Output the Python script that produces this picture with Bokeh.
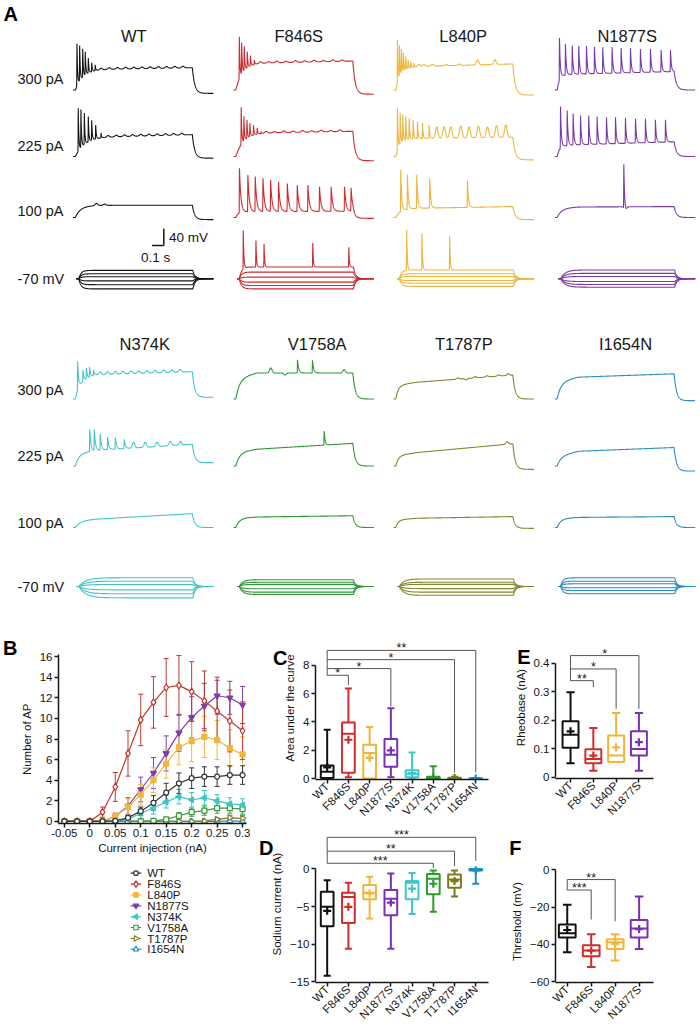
import numpy as np
from math import pi
from bokeh.plotting import figure
from bokeh.models import (Range1d, ColumnDataSource, Whisker, TeeHead, FixedTicker, LinearAxis)
from bokeh.layouts import column, row
from bokeh.embed import file_html
from bokeh.resources import INLINE
from bokeh.core.properties import value

FONT = "Liberation Sans"
INK = "#161616"
SX = 1.0
SY = 1.0

GENOS = ["WT", "F846S", "L840P", "N1877S", "N374K", "V1758A", "T1787P", "I1654N"]
TRACE_COLORS = {"WT": "#161616", "F846S": "#cc2a2f", "L840P": "#efb43a", "N1877S": "#7a3aa6",
                "N374K": "#42c4c6", "V1758A": "#2e9636", "T1787P": "#85852e", "I1654N": "#2a8cc0"}
BOX_COLORS = ["#111111", "#d42b2b", "#f2b636", "#7b2fb5", "#3cc8c8", "#2f9a2f", "#7b7b1c", "#1e8ccc"]
B_COLORS = {"WT": "#333333", "F846S": "#c0392b", "L840P": "#f0b63c", "N1877S": "#7d3db0",
            "N374K": "#3ec6c6", "V1758A": "#3a9a3a", "T1787P": "#7f7f26", "I1654N": "#2f8fc4"}

# ---------------- Panel A data ----------------
ROW_LABELS = ["300 pA", "225 pA", "100 pA", "-70 mV"]
# (rise tau s, plateau mV at 0.02/0.2/1.02 s, level after step mV, spike decay s)
STEP_300 = {"WT": (0.06, (-25, -21, -17), -78, 0.005), "F846S": (0.05, (-12, -6, -1), -80, 0.005),
            "L840P": (0.04, (-18, -14, -8), -82, 0.005), "N1877S": (0.02, (-34, -32, -26), -70, 0.007),
            "N374K": (0.03, (-30, -12, -5), -66, 0.008), "V1758A": (0.03, (-22, -8, -8), -70, 0.01),
            "T1787P": (0.02, (-38, -30, -13), -70, 0.006), "I1654N": (0.03, (-30, -18, -10), -74, 0.006)}
SPIKES_300 = {
    "WT": [(0.034, 40), (0.057, 35), (0.083, 28), (0.105, 20), (0.131, 6), (0.16, -5), (0.19, -10)],
    "F846S": [(0.05, 57), (0.07, 41), (0.092, 33), (0.118, 21), (0.145, 12), (0.178, 1)],
    "L840P": [(0.034, 49), (0.051, 33), (0.068, 25), (0.085, 17), (0.105, 9), (0.125, 1), (0.148, -3), (0.176, -6)],
    "N1877S": [(0.04, 54), (0.091, 39.5), (0.149, 35.5), (0.205, 35.5), (0.271, 35.5), (0.339, 33), (0.41, 31.5),
               (0.49, 31.5), (0.567, 30), (0.647, 30), (0.732, 27.6), (0.818, 27.6), (0.909, 25), (0.989, 25)],
    "N374K": [(0.04, 19), (0.085, -1), (0.114, 3), (0.142, 5), (0.176, -1)],
    "V1758A": [(0.547, 23.5), (0.675, 22)], "T1787P": [], "I1654N": []}
BUMPS_300 = {
    "WT": [(0.24, 4), (0.31, 4), (0.38, 4), (0.45, 4), (0.52, 4), (0.59, 4), (0.66, 4), (0.73, 4), (0.8, 4), (0.87, 4), (0.94, 4)],
    "F846S": [(0.23, 4), (0.3, 3), (0.37, 4), (0.45, 3), (0.53, 4), (0.61, 3), (0.69, 4), (0.77, 3), (0.85, 4), (0.93, 3)],
    "L840P": [(0.22, 5), (0.26, 4), (0.333, 4), (0.45, 3), (0.56, 3), (0.718, 12), (0.866, 11)],
    "N1877S": [],
    "N374K": [(0.233, 6), (0.296, 6), (0.362, 6), (0.427, 6), (0.496, 6), (0.561, 6), (0.632, 6), (0.703, 6), (0.775, 6), (0.846, 6), (0.917, 6)],
    "V1758A": [(0.319, 12), (0.44, -5), (0.946, 8)],
    "T1787P": [(0.55, 3), (0.62, -3), (0.7, 3), (0.8, 3), (0.9, 3), (0.98, 4)], "I1654N": []}

STEP_225 = {"WT": (0.07, (-30, -24, -18), -74, 0.005), "F846S": (0.06, (-18, -14, -10), -80, 0.005),
            "L840P": (0.03, (-30, -27, -24), -78, 0.005), "N1877S": (0.02, (-45, -42, -35), -70, 0.007),
            "N374K": (0.03, (-40, -33, -18), -62, 0.01), "V1758A": (0.03, (-38, -30, -16), -70, 0.008),
            "T1787P": (0.02, (-46, -38, -17), -78, 0.006), "I1654N": (0.03, (-47, -35, -26), -82, 0.006)}
SPIKES_225 = {
    "WT": [(0.045, 45), (0.068, 41), (0.097, 33), (0.131, 25), (0.16, 16), (0.194, 5), (0.24, -14)],
    "F846S": [(0.066, 47), (0.089, 25), (0.115, 17), (0.14, 9), (0.171, 4), (0.203, -2), (0.237, -10)],
    "L840P": [(0.034, 45), (0.057, 33), (0.08, 29), (0.105, 25), (0.134, 21), (0.168, 17), (0.205, 13), (0.248, 9.5), (0.305, 5.5)],
    "N1877S": [(0.049, 49), (0.106, 39.5), (0.157, 31.6), (0.22, 27.6), (0.29, 27.6), (0.362, 25), (0.442, 23.5),
               (0.519, 23.5), (0.604, 22), (0.69, 19.7), (0.775, 19.7), (0.86, 17.3), (0.946, 17.3)],
    "N374K": [(0.143, 17), (0.182, 16), (0.233, 5.5), (0.296, -1), (0.362, -3), (0.438, -6.5)],
    "V1758A": [(0.775, 13)], "T1787P": [], "I1654N": []}
BUMPS_225 = {
    "WT": [(0.3, 4), (0.37, 4), (0.44, 4), (0.51, 4), (0.58, 4), (0.65, 4), (0.72, 4), (0.79, 4), (0.86, 4), (0.93, 4)],
    "F846S": [(0.28, 4), (0.35, 3), (0.43, 4), (0.51, 3), (0.59, 4), (0.67, 3), (0.75, 4), (0.83, 3), (0.91, 4)],
    "L840P": [(0.37, 27), (0.433, 27), (0.49, 27), (0.575, 28), (0.646, 26), (0.726, 27), (0.803, 25), (0.88, 28), (0.96, 29)],
    "N1877S": [], "N374K": [(0.518, 14), (0.618, 12), (0.718, 10), (0.832, 10), (0.917, 8)],
    "V1758A": [], "T1787P": [(0.97, 6)], "I1654N": []}

STEP_100 = {"WT": (0.04, (-44, -41, -41), -75, 0.005), "F846S": (0.02, (-57, -56, -55), -72, 0.012),
            "L840P": (0.03, (-52, -48, -44), -75, 0.008), "N1877S": (0.04, (-47, -45, -44), -70, 0.006),
            "N374K": (0.04, (-54, -50, -37), -70, 0.006), "V1758A": (0.03, (-48, -45, -42), -70, 0.006),
            "T1787P": (0.02, (-52, -48, -44), -72, 0.006), "I1654N": (0.03, (-49, -46, -44), -70, 0.006)}
SPIKES_100 = {
    "WT": [],
    "F846S": [(0.051, 47), (0.123, 31), (0.186, 27), (0.252, 23), (0.317, 19), (0.385, 15), (0.46, 11),
              (0.545, 7), (0.636, 7), (0.735, 3), (0.835, 3), (0.949, 3), (1.005, 0)],
    "L840P": [(0.062, 43.5), (0.119, 31.6), (0.199, 31.6), (0.31, 23.5), (0.632, 18)],
    "N1877S": [(0.59, 60)], "N374K": [], "V1758A": [], "T1787P": [], "I1654N": []}
BUMPS_100 = {"WT": [(0.2, 5), (0.27, 3)], "F846S": [], "L840P": [], "N1877S": [(0.605, -8)],
             "N374K": [], "V1758A": [], "T1787P": [], "I1654N": []}

FAMILY_LEVELS = {"WT": [20, 12, 5, -5, -14, -24], "F846S": [28, 16, 4, -8, -16, -24],
                 "L840P": [21, 12, 5.5, -4, -10.5, -18], "N1877S": [21, 13, 5.5, -6.5, -13.5, -20],
                 "N374K": [20.7, 12.6, 4.8, -8, -17.4, -27], "V1758A": [16, 10, 5, -5.5, -13.5, -19],
                 "T1787P": [18, 10, 5, -5, -13.5, -21], "I1654N": [20.7, 12.6, 6.4, -3, -9.5, -17.4]}
FAMILY_TAU = {"WT": 0.02, "F846S": 0.02, "L840P": 0.02, "N1877S": 0.04, "N374K": 0.06,
              "V1758A": 0.03, "T1787P": 0.04, "I1654N": 0.02}
FAMILY_SPIKES = {"F846S": [(0.055, 45), (0.166, 21), (0.237, 13), (0.664, 15), (0.98, 5)],
                 "L840P": [(0.085, 47), (0.219, 38), (0.462, 31)]}

# ---------------- Panel B data ----------------
B_X = [-0.05, -0.025, 0, 0.025, 0.05, 0.075, 0.1, 0.125, 0.15, 0.175, 0.2, 0.225, 0.25, 0.275, 0.3]
B_MEAN = {
    "WT": [0, 0, 0, 0, 0.05, 0.35, 1.0, 1.8, 2.8, 3.7, 4.2, 4.35, 4.35, 4.5, 4.5],
    "F846S": [0, 0, 0, 0.9, 3.35, 6.6, 9.85, 11.55, 13.0, 13.2, 12.6, 11.7, 10.7, 9.75, 8.8],
    "L840P": [0, 0, 0, 0, 0.5, 1.4, 2.6, 4.0, 5.6, 7.2, 7.8, 8.2, 7.9, 7.1, 6.5],
    "N1877S": [0, 0, 0, 0, 0.5, 1.5, 3.1, 4.7, 6.6, 8.6, 10.1, 11.2, 12.2, 12.0, 11.3],
    "N374K": [0, 0, 0, 0, 0, 0.2, 0.8, 1.3, 1.9, 2.4, 2.1, 2.3, 2.0, 1.7, 1.6],
    "V1758A": [0, 0, 0, 0, 0, 0, 0, 0.05, 0.2, 0.55, 0.9, 1.05, 1.3, 1.3, 1.2],
    "T1787P": [0, 0, 0, 0, 0, 0, 0, 0, 0, 0, 0, 0.05, 0.2, 0.35, 0.3],
    "I1654N": [0, 0, 0, 0, 0, 0, 0, 0, 0, 0, 0, 0, 0, 0.05, 0.0]}
B_ERR = {
    "WT": [0, 0, 0, 0, 0.1, 0.2, 0.4, 0.7, 0.9, 1.0, 1.0, 0.95, 0.95, 0.9, 0.9],
    "F846S": [0, 0, 0, 0.5, 1.4, 2.2, 2.5, 2.5, 2.8, 2.9, 2.9, 2.9, 3.0, 3.0, 2.8],
    "L840P": [0, 0, 0, 0, 0.3, 0.8, 1.0, 1.2, 1.4, 1.7, 2.0, 2.0, 1.9, 1.8, 1.7],
    "N1877S": [0, 0, 0, 0, 0.3, 0.8, 1.2, 1.5, 1.7, 1.8, 2.0, 2.2, 1.8, 1.6, 1.8],
    "N374K": [0, 0, 0, 0, 0, 0.2, 0.5, 0.6, 0.6, 0.7, 0.7, 0.7, 0.6, 0.6, 0.6],
    "V1758A": [0, 0, 0, 0, 0, 0, 0, 0.05, 0.2, 0.3, 0.4, 0.45, 0.5, 0.5, 0.5],
    "T1787P": [0, 0, 0, 0, 0, 0, 0, 0, 0, 0, 0, 0.05, 0.15, 0.25, 0.25],
    "I1654N": [0, 0, 0, 0, 0, 0, 0, 0, 0, 0, 0, 0, 0, 0, 0]}
B_MARKERS = {"WT": ("circle", 0, False, 5), "F846S": ("diamond", 0, False, 7), "L840P": ("square", 0, True, 5),
             "N1877S": ("inverted_triangle", 0, True, 6), "N374K": ("triangle", pi / 2, True, 6),
             "V1758A": ("square", 0, False, 5), "T1787P": ("triangle", -pi / 2, False, 6),
             "I1654N": ("triangle", 0, False, 6)}
B_XTICKS = [-0.05, 0, 0.05, 0.1, 0.15, 0.2, 0.25, 0.3]
B_XTICK_LABELS = ["-0.05", "0", "0.05", "0.1", "0.15", "0.2", "0.25", "0.3"]
B_YTICKS = [0, 2, 4, 6, 8, 10, 12, 14, 16]

# ---------------- Panels C-F data ----------------
C_LO = [0, 0.1, 0, 0.1, 0, 0, 0, 0]
C_Q1 = [0.05, 0.42, 0.02, 0.84, 0.1, 0, 0, 0]
C_MED = [0.5, 3.17, 1.82, 1.7, 0.35, 0.05, 0.02, 0.01]
C_Q3 = [0.93, 3.96, 2.4, 2.8, 0.6, 0.15, 0.08, 0.04]
C_HI = [3.45, 6.36, 3.64, 4.96, 1.86, 0.88, 0.15, 0.06]
C_MEAN = [0.8, 2.75, 1.47, 2.0, 0.4, 0.1, 0.05, 0.02]
C_SIG_TARGET = [1, 3, 6, 7]
C_SIG_Y = [7.29, 7.76, 8.39, 9.04]
C_SIG_END = [6.6, 5.1, 0.45, 0.45]
C_SIG_TEXT = ["*", "*", "*", "**"]

D_LO = [-14.2, -10.6, -6.58, -10.6, -6.0, -5.7, -3.68, -1.97]
D_Q1 = [-7.63, -7.19, -4.04, -6.14, -4.04, -3.38, -2.5, -0.22]
D_MED = [-5.04, -3.73, -3.16, -3.95, -1.84, -1.32, -1.4, -0.09]
D_Q3 = [-3.03, -3.16, -2.15, -2.8, -1.62, -0.66, -0.75, 0]
D_HI = [-1.49, -1.84, -1.05, -0.61, -0.53, -0.22, -0.22, 0]
D_MEAN = [-5.57, -5.04, -3.25, -4.47, -2.63, -1.97, -1.62, -0.18]
D_SIG_TARGET = [5, 6, 7]
D_SIG_Y = [0.75, 2.36, 4.2]
D_SIG_END = [0.1, 0.39, 1.09]
D_SIG_TEXT = ["***", "**", "***"]

E_LO = [0.049, 0.023, 0.053, 0.023]
E_Q1 = [0.103, 0.049, 0.053, 0.076]
E_MED = [0.149, 0.064, 0.076, 0.099]
E_Q3 = [0.196, 0.098, 0.146, 0.161]
E_HI = [0.298, 0.173, 0.225, 0.225]
E_MEAN = [0.161, 0.076, 0.105, 0.123]
E_SIG_TARGET = [1, 2, 3]
E_SIG_Y = [0.339, 0.38, 0.427]
E_SIG_END = [0.316, 0.24, 0.24]
E_SIG_TEXT = ["**", "*", "*"]

F_LO = [-44.2, -52.1, -48.6, -42.5]
F_Q1 = [-36.3, -46.3, -42.5, -36.3]
F_MED = [-34.0, -43.3, -38.9, -31.5]
F_Q3 = [-29.3, -40.4, -37.2, -27.0]
F_HI = [-18.8, -34.6, -34.6, -14.4]
F_MEAN = [-32.3, -43.3, -39.8, -31.8]
F_SIG_TARGET = [1, 2]
F_SIG_Y = [-10.9, -5.3]
F_SIG_END = [-26.7, -27.6]
F_SIG_TEXT = ["***", "**"]

# ---------------- layout constants (reference pixels) ----------------
PX_S = 117.0
PX_MV = 0.42
COL_X = [72.5, 233, 393, 554.3]
ROW_Y = [[89.5, 156, 217, 278.3], [398.5, 465.5, 527, 586]]
LABEL_Y = [[78.3, 145, 210.7, 278.3], [389.3, 455, 522.7, 586]]
TITLE_Y = [35, 343.3]
TITLE_X = [133.3, 298.3, 462.7, 626.7, 144.3, 316.7, 463.3, 625]
LEG_ROW_Y = [5.7, 16.7, 27.3, 38.3, 49.3, 60.0, 71.0, 81.7]
T_ON, T_OFF, T_END = 0.02, 1.02, 1.2
KNOTS_T = [0.02, 0.2, 1.02]


def make_trace(rise, plateau, after, decay, spikes=(), bumps=(), v0=-70.0, n=1441):
    parts = [np.linspace(0.0, T_END, n)]
    for ts, _ in spikes:
        parts.append(ts + np.array([-0.004, -0.002, -0.001, 0.0, 0.001, 0.002, 0.004, 0.008, 0.015]))
    t = np.unique(np.clip(np.concatenate(parts), 0.0, T_END))
    plat = np.interp(t, KNOTS_T, plateau)
    v = np.full_like(t, v0)
    on = (t >= T_ON) & (t < T_OFF)
    v[on] = v0 + (plat[on] - v0) * (1 - np.exp(-(t[on] - T_ON) / rise))
    v_off = v0 + (plateau[-1] - v0) * (1 - np.exp(-(T_OFF - T_ON) / rise))
    off = t >= T_OFF
    v[off] = after + (v_off - after) * np.exp(-(t[off] - T_OFF) / 0.02)
    base = v.copy()
    for ts, peak in spikes:
        dt = t - ts
        k = np.where(dt < 0, np.exp(-(dt / 0.0015) ** 2), np.exp(-np.clip(dt, 0, None) / decay))
        v = v + (peak - np.interp(ts, t, base)) * k
    for tb, amp in bumps:
        v = v + amp * np.exp(-((t - tb) / 0.015) ** 2)
    return t, v


def S(w):
    return int(round(w * SX))


def H(h):
    return int(round(h * SY))


# ---------------- Panel A ----------------
pA = figure(width=S(700), height=H(632), x_range=Range1d(0, 700 / PX_S), y_range=Range1d(-632 / PX_MV, 0),
            output_backend="svg", toolbar_location=None, x_axis_type=None, y_axis_type=None,
            min_border=0, outline_line_color=None)
ROWS = [(STEP_300, SPIKES_300, BUMPS_300), (STEP_225, SPIKES_225, BUMPS_225), (STEP_100, SPIKES_100, BUMPS_100)]
for gi, g in enumerate(GENOS):
    half, c = divmod(gi, 4)
    x0 = COL_X[c] / PX_S
    col = TRACE_COLORS[g]
    for r, (steps, spikes, bumps) in enumerate(ROWS):
        rise, plat, after, decay = steps[g]
        t, v = make_trace(rise, plat, after, decay, spikes[g], bumps[g])
        pA.line(x0 + t, -ROW_Y[half][r] / PX_MV + (v + 70), line_color=col, line_width=1.1)
    for li, lev in enumerate(FAMILY_LEVELS[g]):
        sp = FAMILY_SPIKES.get(g, []) if li == 0 else []
        t, v = make_trace(FAMILY_TAU[g], (-70 + lev,) * 3, -70, 0.005, sp, ())
        pA.line(x0 + 0.03 + t * 0.975, -ROW_Y[half][3] / PX_MV + (v + 70), line_color=col, line_width=1.1)
    pA.text(x=[TITLE_X[gi] / PX_S], y=[-TITLE_Y[half] / PX_MV], text=[g], text_align="center",
            text_baseline="middle", text_font=value(FONT), text_font_size="16.5px", text_color=INK)
for half in range(2):
    for r in range(4):
        pA.text(x=[17 / PX_S], y=[-LABEL_Y[half][r] / PX_MV], text=[ROW_LABELS[r]], text_align="left",
                text_baseline="middle", text_font=value(FONT), text_font_size="14.5px", text_color=INK)
SB_X, SB_Y = 163.3 / PX_S, -245 / PX_MV
pA.segment(x0=[SB_X, SB_X - 0.1], y0=[SB_Y, SB_Y], x1=[SB_X, SB_X], y1=[SB_Y + 40, SB_Y],
           line_color=INK, line_width=1.5)
pA.text(x=[SB_X + 0.045], y=[SB_Y + 20], text=["40 mV"], text_align="left", text_baseline="middle",
        text_font=value(FONT), text_font_size="13.5px", text_color=INK)
pA.text(x=[SB_X - 0.07], y=[SB_Y - 28], text=["0.1 s"], text_align="center", text_baseline="middle",
        text_font=value(FONT), text_font_size="13.5px", text_color=INK)
pA.text(x=[3 / PX_S], y=[-2 / PX_MV], text=["A"], text_font=value(FONT), text_font_size="20px",
        text_font_style="bold", text_baseline="top", text_align="left", text_color="black")


def style_axes(p):
    for ax in p.axis:
        ax.axis_line_width = 1.5
        ax.axis_line_color = INK
        ax.major_tick_line_color = INK
        ax.major_tick_line_width = 1.5
        ax.major_tick_in = 0
        ax.major_tick_out = 4
        ax.minor_tick_line_color = None
        ax.major_label_text_font = FONT
        ax.major_label_text_font_size = "11.5px"
        ax.major_label_text_color = INK
        ax.axis_label_text_font = FONT
        ax.axis_label_text_font_size = "11.5px"
        ax.axis_label_text_font_style = "normal"
        ax.axis_label_text_color = INK
        ax.major_label_standoff = 2
        ax.axis_label_standoff = 4
    p.xgrid.visible = False
    p.ygrid.visible = False
    p.outline_line_color = None


def make_fig(w, h, l, r, t, b, xr, yr):
    p = figure(width=S(w), height=H(h), x_range=Range1d(*xr), y_range=Range1d(*yr),
               output_backend="svg", toolbar_location=None,
               min_border_left=S(l), min_border_right=S(r), min_border_top=H(t), min_border_bottom=H(b))
    style_axes(p)
    return p


def letter(p, txt, rise_px, standoff):
    # panel letter as a bare left axis label; rise_px = height of the letter above the frame centre
    lh = 2.0 * rise_px * SY / 22.0
    ax = LinearAxis(ticker=FixedTicker(ticks=[]), axis_label=txt + "\n\u00a0",
                    axis_line_color=None, major_tick_line_color=None, minor_tick_line_color=None,
                    major_label_text_font_size="0px", axis_label_text_font=FONT,
                    axis_label_text_font_size="20px", axis_label_text_font_style="bold",
                    axis_label_text_color="black", axis_label_standoff=standoff,
                    axis_label_orientation="horizontal", axis_label_text_line_height=lh)
    p.add_layout(ax, "left")


# ---------------- Panel B ----------------
pB = make_fig(250, 235, 54, 4, 22, 44, (-0.0615, 0.3077), (-0.2, 16.2))
pB.xaxis.ticker = FixedTicker(ticks=B_XTICKS)
pB.xaxis.major_label_overrides = dict(zip(B_XTICKS, B_XTICK_LABELS))
pB.xaxis.major_label_standoff = 1
pB.xaxis.axis_label_standoff = 2
pB.yaxis.ticker = FixedTicker(ticks=B_YTICKS)
pB.xaxis.axis_label = "Current injection (nA)"
pB.yaxis.axis_label = "Number of AP"
for g in GENOS[::-1]:
    col = B_COLORS[g]
    m, ang, filled, sz = B_MARKERS[g]
    y = np.array(B_MEAN[g])
    e = np.array(B_ERR[g])
    x = np.array(B_X)
    keep = e > 0
    if keep.any():
        src = ColumnDataSource(dict(x=x[keep], lo=(y - e)[keep], hi=(y + e)[keep]))
        pB.add_layout(Whisker(source=src, base="x", lower="lo", upper="hi", line_color=col, line_width=1,
                              upper_head=TeeHead(size=5, line_color=col, line_width=1),
                              lower_head=TeeHead(size=5, line_color=col, line_width=1)))
    pB.line(x, y, line_color=col, line_width=1.2)
    pB.scatter(x, y, marker=m, angle=ang, size=sz, line_color=col, line_width=1.2,
               fill_color=col if filled else "white")
letter(pB, "B", 91, 0)

# legend of panel B (key drawn in its own strip under the plot)
leg_h = H(396) - pB.height
pLeg = figure(width=S(250), height=leg_h, x_range=Range1d(0, 250), y_range=Range1d(leg_h / SY, 0),
              output_backend="svg", toolbar_location=None, x_axis_type=None, y_axis_type=None,
              min_border=0, outline_line_color=None)
pLeg.xgrid.visible = False
pLeg.ygrid.visible = False
for g, ly in zip(GENOS, LEG_ROW_Y):
    col = B_COLORS[g]
    m, ang, filled, sz = B_MARKERS[g]
    pLeg.segment(x0=[96], y0=[ly], x1=[110], y1=[ly], line_color=col, line_width=1.2)
    pLeg.scatter([103], [ly], marker=m, angle=ang, size=sz - 0.5, line_color=col, line_width=1.2,
                 fill_color=col if filled else "white")
    pLeg.text(x=[118], y=[ly], text=[g], text_align="left", text_baseline="middle",
              text_font=value(FONT), text_font_size="11.5px", text_color=INK)


# ---------------- box panels ----------------
def box_panel(p, lo, q1, med, q3, hi, mean, names, bw, cw, sig_t, sig_y, sig_end, sig_txt):
    n = len(lo)
    x = np.arange(n, dtype=float)
    cols = BOX_COLORS[:n]
    p.segment(x0=x, y0=q3, x1=x, y1=hi, line_color=cols, line_width=2)
    p.segment(x0=x, y0=q1, x1=x, y1=lo, line_color=cols, line_width=2)
    p.segment(x0=x - cw / 2, y0=hi, x1=x + cw / 2, y1=hi, line_color=cols, line_width=2)
    p.segment(x0=x - cw / 2, y0=lo, x1=x + cw / 2, y1=lo, line_color=cols, line_width=2)
    p.vbar(x=x, width=bw, bottom=q1, top=q3, fill_color="white", line_color=cols, line_width=2)
    p.segment(x0=x - bw / 2, y0=med, x1=x + bw / 2, y1=med, line_color=cols, line_width=2)
    p.scatter(x=x, y=mean, marker="cross", size=8, line_width=2.2, line_color=cols)
    tx = np.array(sig_t, dtype=float)
    sy = np.array(sig_y, dtype=float)
    p.segment(x0=np.zeros(len(tx)), y0=sy, x1=tx, y1=sy, line_color="#555555", line_width=1)
    p.segment(x0=tx, y0=sy, x1=tx, y1=sig_end, line_color="#555555", line_width=1)
    p.segment(x0=[0], y0=[sy.min()], x1=[0], y1=[sy.max()], line_color="#555555", line_width=1)
    p.text(x=tx / 2, y=sy, text=sig_txt, text_align="center", text_baseline="bottom", y_offset=5,
           text_font=value(FONT), text_font_size="12.5px", text_color=INK)
    p.xaxis.ticker = FixedTicker(ticks=list(range(n)))
    p.xaxis.major_label_overrides = {i: names[i] for i in range(n)}
    p.xaxis.major_label_orientation = pi / 4
    p.xaxis.major_label_standoff = 1
    p.xaxis.major_label_text_font_size = "11.5px"


pC = make_fig(250, 193, 65, 12, 4, 45, (-0.55, 7.6), (-0.05, 10.02))
box_panel(pC, C_LO, C_Q1, C_MED, C_Q3, C_HI, C_MEAN, GENOS, 0.6, 0.33, C_SIG_TARGET, C_SIG_Y, C_SIG_END, C_SIG_TEXT)
pC.yaxis.ticker = FixedTicker(ticks=[0, 2, 4, 6, 8])
pC.yaxis.bounds = (0, 8)
pC.yaxis.axis_label = "Area under the curve"
letter(pC, "C", 50, -6)

pD = make_fig(250, 203, 65, 12, 0, 44, (-0.55, 7.6), (-15.09, 5.77))
box_panel(pD, D_LO, D_Q1, D_MED, D_Q3, D_HI, D_MEAN, GENOS, 0.6, 0.33, D_SIG_TARGET, D_SIG_Y, D_SIG_END, D_SIG_TEXT)
pD.yaxis.ticker = FixedTicker(ticks=[-15, -10, -5, 0])
pD.yaxis.bounds = (-15, 0)
pD.yaxis.axis_label = "Sodium current (nA)"
letter(pD, "D", 56, -6)

pE = make_fig(200, 197, 52, 45, 4, 51, (-0.66, 3.64), (-0.0046, 0.494))
box_panel(pE, E_LO, E_Q1, E_MED, E_Q3, E_HI, E_MEAN, GENOS[:4], 0.7, 0.36, E_SIG_TARGET, E_SIG_Y, E_SIG_END, E_SIG_TEXT)
pE.yaxis.ticker = FixedTicker(ticks=[0, 0.1, 0.2, 0.3, 0.4])
pE.yaxis.major_label_overrides = {0: "0", 0.1: "0.1", 0.2: "0.2", 0.3: "0.3", 0.4: "0.4"}
pE.yaxis.bounds = (0, 0.4)
pE.yaxis.axis_label = "Rheobase (nA)"
letter(pE, "E", 51, -19)

pF = make_fig(200, 199, 55, 47, 31, 44, (-0.49, 3.6), (-60.4, 4.9))
box_panel(pF, F_LO, F_Q1, F_MED, F_Q3, F_HI, F_MEAN, GENOS[:4], 0.7, 0.36, F_SIG_TARGET, F_SIG_Y, F_SIG_END, F_SIG_TEXT)
pF.yaxis.ticker = FixedTicker(ticks=[-60, -40, -20, 0])
pF.yaxis.bounds = (-60, 0)
pF.yaxis.axis_label = "Threshold (mV)"
letter(pF, "F", 73.5, -14)

layout = column(pA, row(column(pB, pLeg), column(pC, pD), column(pE, pF)))
open("out.html", "w").write(file_html(layout, INLINE))
